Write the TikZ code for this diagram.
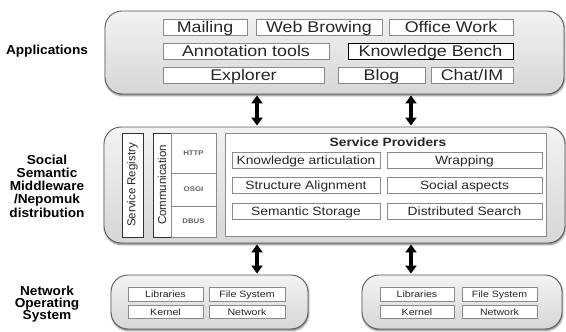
\documentclass[tikz,border=0pt]{standalone}
\usepackage{fontspec}
\setmainfont{Liberation Sans}[FakeStretch=1.15]
\newfontfamily\lblfont{Liberation Sans}[FakeStretch=1.05]
\newfontfamily\plainfont{Liberation Sans}
\usetikzlibrary{arrows.meta,shadows.blur}
\definecolor{contfill}{HTML}{E2E2E2}
\definecolor{contdraw}{HTML}{5A5A5A}
\definecolor{boxdraw}{HTML}{8A8A8A}
\definecolor{txt}{HTML}{262626}
\tikzset{
  cont/.style={draw=contdraw, line width=0.9pt, top color=gray!10, bottom color=contfill!95!black,
    rounded corners=17pt, inner sep=0pt,
    blur shadow={shadow xshift=0.6pt, shadow yshift=-1.6pt, shadow blur radius=1.8pt, shadow opacity=55}},
  ibox/.style={draw=boxdraw, line width=0.7pt, fill=white, inner sep=0pt, text=txt},
  topbox/.style={ibox, minimum height=16pt, text height=11pt, text depth=0pt, font=\fontsize{15.5}{16}\selectfont},
  midbox/.style={ibox, minimum height=16pt, text height=9pt, text depth=0pt, font=\fontsize{12}{13}\selectfont},
  lowbox/.style={ibox, minimum height=13.5pt, text height=6.6pt, text depth=0pt, font=\fontsize{9.2}{10}\selectfont},
  cell/.style={ibox, minimum width=45pt, font=\fontsize{6.8}{7}\selectfont\bfseries, text=gray!75!black},
  vbox/.style={ibox, draw=black!80, minimum width=104pt, rotate=90, font=\plainfont\fontsize{11.5}{12}\selectfont},
  lbl/.style={align=center, font=\lblfont\bfseries\fontsize{13}{13.3}\selectfont},
  dbl/.style={line width=3.4pt, {Triangle[length=8pt,width=11pt]}-{Triangle[length=8pt,width=11pt]}, shorten <=1pt, shorten >=1pt}
}
\begin{document}
\begin{tikzpicture}[x=1pt,y=-1pt]
\useasboundingbox (0,0) rectangle (566,332);

% ---- containers
\node[cont, minimum width=459pt, minimum height=83pt] (apps) at (334.5,52.5) {};
\node[cont, minimum width=461pt, minimum height=116pt] (mw) at (334.5,185) {};
\node[cont, minimum width=197pt, minimum height=54pt] (os1) at (209.5,302) {};
\node[cont, minimum width=200pt, minimum height=54pt] (os2) at (462,302) {};

% ---- left labels
\node[lbl] (lapps) at (47,51) {Applications};
\node[lbl] (lmw) at (47,186) {Social\\Semantic\\Middleware\\/Nepomuk\\distribution};
\node[lbl, font=\lblfont\bfseries\fontsize{13}{12.3}\selectfont] (los) at (47,304) {Network\\Operating\\System};

% ---- applications
\node[topbox, minimum width=84pt] (mail) at (205,27) {Mailing};
\node[topbox, minimum width=126pt] (web) at (319,27) {Web Browing};
\node[topbox, minimum width=124pt] (office) at (451,27) {Office Work};
\node[topbox, minimum width=166pt] (annot) at (246,51) {Annotation tools};
\node[topbox, minimum width=165pt, draw=black] (kb) at (430.5,51) {Knowledge Bench};
\node[topbox, minimum width=161pt] (expl) at (243.5,75) {Explorer};
\node[topbox, minimum width=87pt] (blog) at (381.5,75) {Blog};
\node[topbox, minimum width=82pt] (chat) at (472,75) {Chat/IM};

% ---- middleware
\node[vbox, minimum height=21pt] (reg) at (132.5,185) {Service Registry};
\node[vbox, minimum height=18pt] (comm) at (162,185) {Communication};
\node[cell, minimum height=40pt] (http) at (193.5,153) {HTTP};
\node[cell, minimum height=33pt] (osgi) at (193.5,189.5) {OSGI};
\node[cell, minimum height=31pt] (dbus) at (193.5,221.5) {DBUS};
\node[ibox, minimum width=321pt, minimum height=103pt] (sp) at (385.5,184.5) {};
\node[font=\fontsize{12}{13}\selectfont\bfseries, text=txt] (sptitle) at (388,142) {Service Providers};
\node[midbox, minimum width=148pt] (ka) at (306,160) {Knowledge articulation};
\node[midbox, minimum width=155pt] (wr) at (464.5,160) {Wrapping};
\node[midbox, minimum width=148pt] (sa) at (306,185) {Structure Alignment};
\node[midbox, minimum width=155pt] (soc) at (464.5,185) {Social aspects};
\node[midbox, minimum width=148pt] (ss) at (306,211) {Semantic Storage};
\node[midbox, minimum width=155pt] (ds) at (464.5,211) {Distributed Search};

% ---- operating systems
\node[lowbox, minimum width=75pt] (lib1) at (165.5,294.5) {Libraries};
\node[lowbox, minimum width=76pt] (fs1) at (247,294.5) {File System};
\node[lowbox, minimum width=75pt] (ker1) at (165.5,312) {Kernel};
\node[lowbox, minimum width=76pt] (net1) at (247,312) {Network};
\node[lowbox, minimum width=74pt] (lib2) at (417,294.5) {Libraries};
\node[lowbox, minimum width=75pt] (fs2) at (499.5,294.5) {File System};
\node[lowbox, minimum width=74pt] (ker2) at (417,312) {Kernel};
\node[lowbox, minimum width=75pt] (net2) at (499.5,312) {Network};

% ---- arrows
\coordinate (ax1) at (257,0);
\coordinate (ax2) at (411,0);
\draw[dbl] (apps.south -| ax1) -- (mw.north -| ax1);
\draw[dbl] (apps.south -| ax2) -- (mw.north -| ax2);
\draw[dbl] (mw.south -| ax1) -- (os1.north -| ax1);
\draw[dbl] (mw.south -| ax2) -- (os2.north -| ax2);
\end{tikzpicture}
\end{document}
